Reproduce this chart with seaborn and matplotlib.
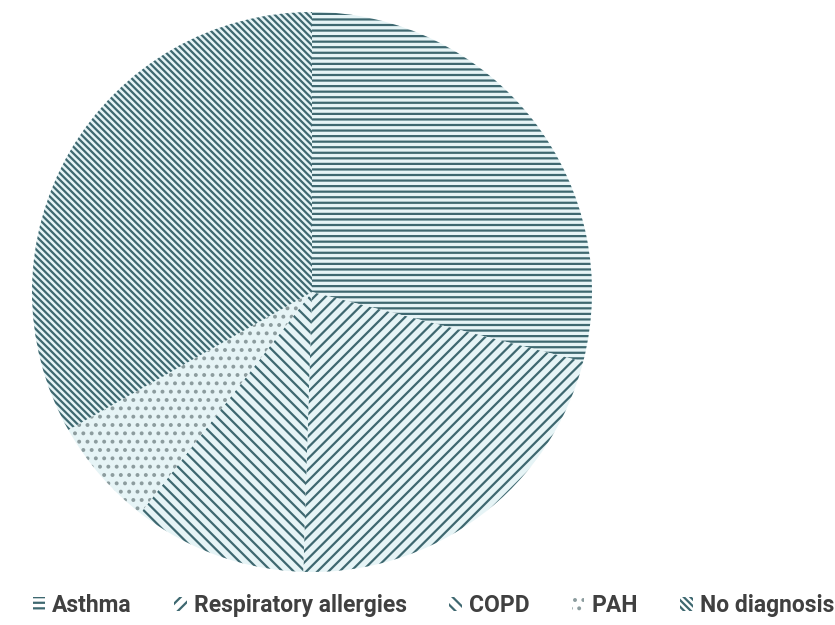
import matplotlib
matplotlib.use('Agg')
import matplotlib.pyplot as plt
import matplotlib.patches as mpatches
import seaborn as sns

# data (share of respondents, %)
categories = ['Asthma', 'Respiratory allergies', 'COPD', 'PAH', 'No diagnosis']
shares = [29.0, 21.5, 10.0, 6.3, 33.2]
hatches = ['---', '///', '\\\\\\', '..', '\\\\\\\\\\']

sns.set_theme(style='white')
plt.rcParams['font.family'] = ['Roboto', 'DejaVu Sans']
plt.rcParams['hatch.linewidth'] = 1.6

line_col = '#3e6870'
face_col = '#e6f4f6'
dot_col = '#8c9c9e'

fig = plt.figure(figsize=(8.35, 6.25), dpi=100)
ax = fig.add_axes([32 / 835, 53 / 625, 560 / 835, 560 / 625])

wedges, _ = ax.pie(shares, startangle=90, counterclock=False, radius=1,
                   colors=[face_col] * len(shares),
                   wedgeprops=dict(linewidth=0, edgecolor=line_col))
for w, h in zip(wedges, hatches):
    w.set_hatch(h)
    w.set_edgecolor(dot_col if h == '..' else line_col)
    w.set_linewidth(0)

ax.set_xlim(-1, 1)
ax.set_ylim(-1, 1)
ax.set_aspect('equal')
ax.axis('off')

handles = []
for cat, h in zip(categories, hatches):
    p = mpatches.Patch(facecolor='white', edgecolor=dot_col if h == '..' else line_col,
                       hatch=h, linewidth=0, label=cat)
    handles.append(p)

leg = fig.legend(handles=handles, loc='lower center', bbox_to_anchor=(0.519, -0.02),
                 ncol=5, frameon=False, handlelength=0.55, handleheight=0.55,
                 handletextpad=0.3, columnspacing=1.85,
                 prop={'weight': 'bold', 'size': 16.5})
for t in leg.get_texts():
    t.set_color('#404040')

fig.savefig('out.png', dpi=100, facecolor='white')
